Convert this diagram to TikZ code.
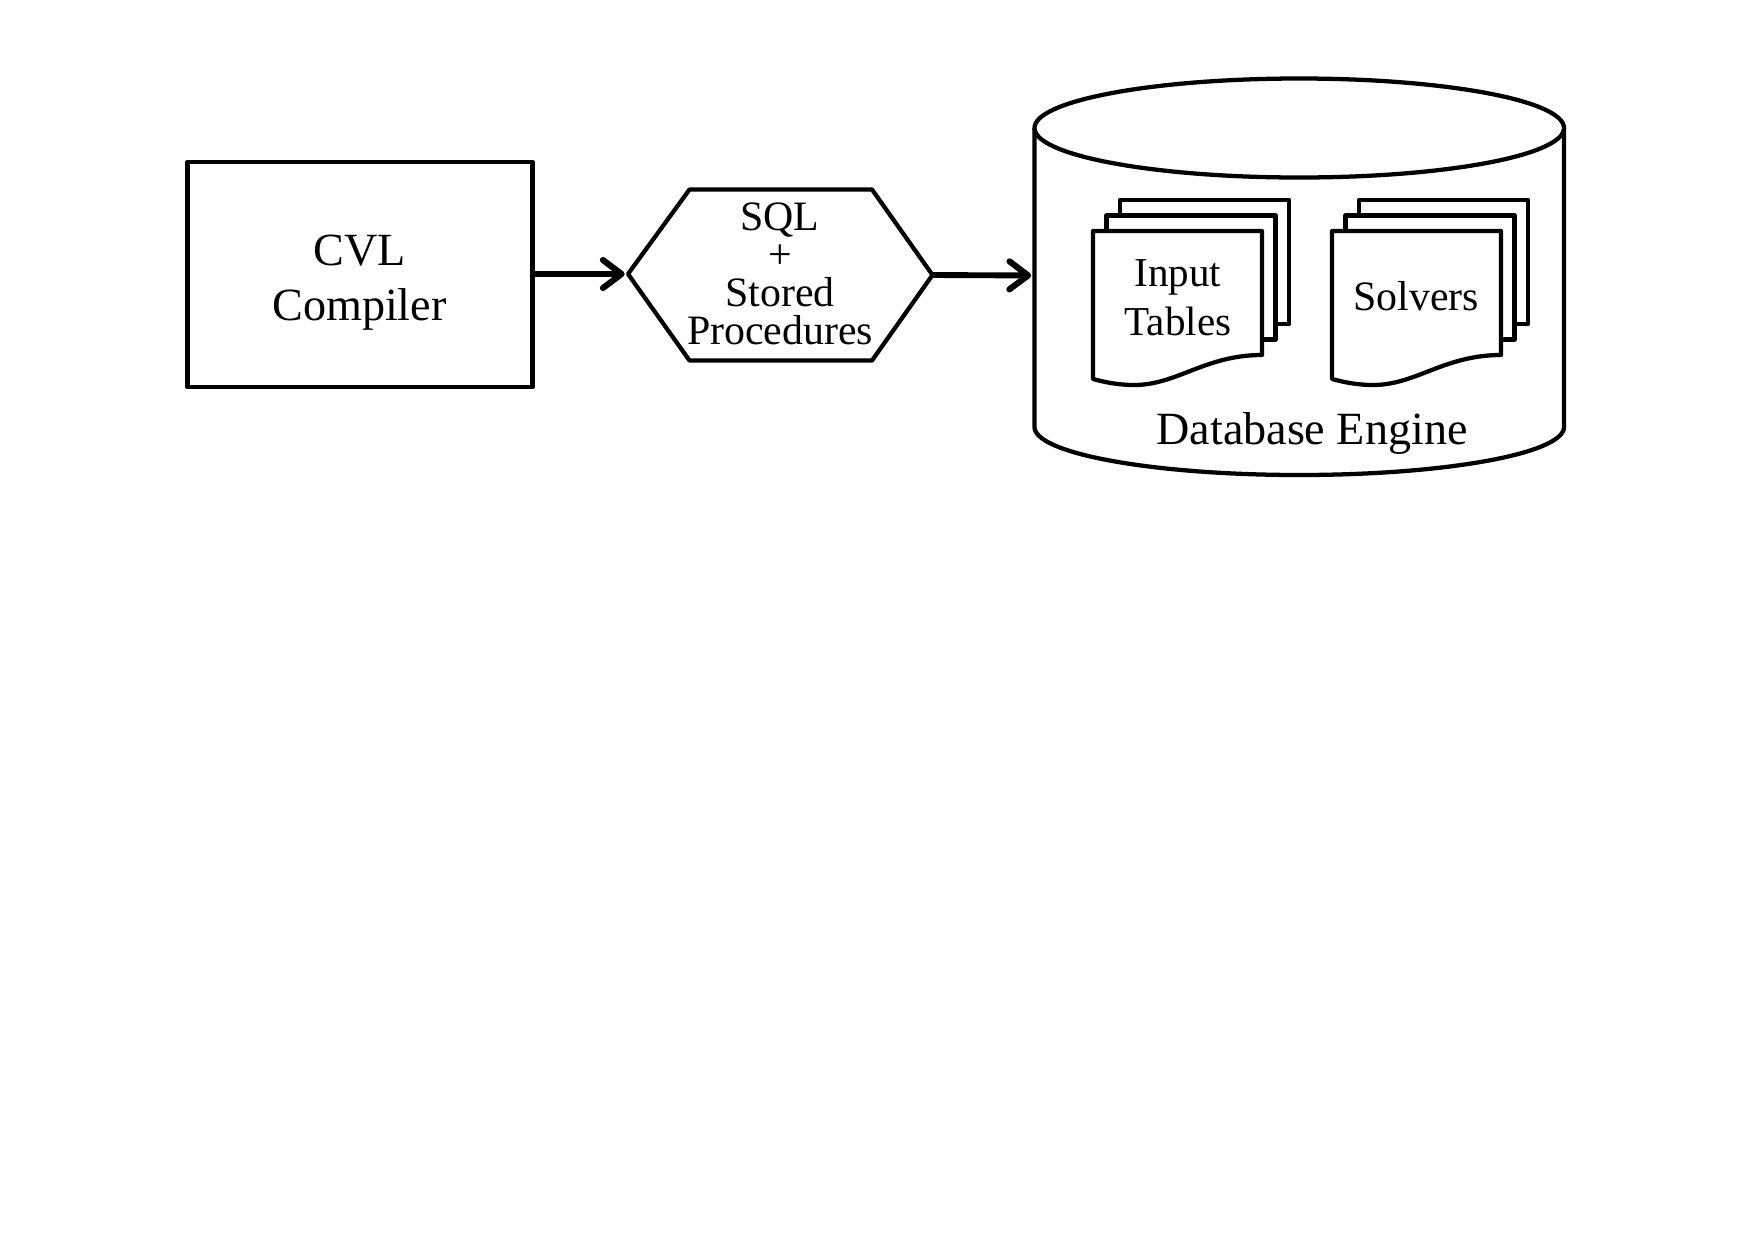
\documentclass[tikz,border=0pt]{standalone}
\usepackage{fontspec}
\setmainfont{Liberation Serif}
\usetikzlibrary{arrows.meta}
\tikzset{
  shapeline/.style={draw=black,line width=3.2pt,line join=round,fill=white},
  flow/.style={draw=black,line width=4.4pt,shorten >=2.5pt,-{Straight Barb[length=14pt,width=21pt,line width=4.6pt,round]}},
  bigtext/.style={font=\fontsize{34.6}{41.25}\selectfont,align=center,anchor=base,inner sep=0pt},
  midtext/.style={font=\fontsize{31.4}{28.3}\selectfont,align=center,anchor=base,inner sep=0pt},
  doctext/.style={font=\fontsize{30.8}{36.75}\selectfont,align=center,anchor=base,inner sep=0pt},
  soltext/.style={font=\fontsize{31.4}{36.75}\selectfont,anchor=base,inner sep=0pt},
  sheet/.style={shapeline,minimum width=126.75pt,minimum height=93pt,inner sep=0pt,outer sep=0pt,anchor=north west}
}
\newcommand{\wavydoc}[1]{%
  \draw[shapeline] (#1,231) -- (#1+169,231) -- (#1+169,355)
    .. controls (#1+112,355) and (#1+84,385) .. (#1+41,385)
    .. controls (#1+25,385) and (#1+11,382) .. (#1,379) -- cycle;
}
\begin{document}
\begin{tikzpicture}[x=0.75pt,y=-0.75pt]
\useasboundingbox (0,0) rectangle (1755,1240);
\fill[white] (0,0) rectangle (1755,1240);
% compiler
\node[shapeline,minimum width=258.75pt,minimum height=168.75pt,inner sep=0pt,outer sep=0pt] (box) at (360,274.5) {};
\node[bigtext] (boxtext) at (359.5,320) {CVL\\Compiler};
% hexagon
\coordinate (hexL) at (628,274);
\coordinate (hexR) at (932.5,275);
\draw[shapeline] (hexL) -- (689.5,189.5) -- (872,189.5) -- (hexR) -- (872,360.5) -- (689.5,360.5) -- cycle;
\node[midtext] (hextext) at (780,344) {SQL\\+\\Stored\\Procedures};
% cylinder
\draw[shapeline] (1034.5,128) -- (1034.5,427) arc[start angle=180,end angle=0,x radius=264.75,y radius=48] -- (1564,128);
\draw[shapeline] (1299.25,128) ellipse [x radius=264.75,y radius=49.5];
\coordinate (cylIn) at (1034.5,275.5);
% stacked documents, left
\node[sheet] (la) at (1120,200) {};
\node[sheet] (lb) at (1106.5,215.5) {};
\wavydoc{1093}
\node[doctext] (ltext) at (1178,335) {Input\\Tables};
% stacked documents, right
\node[sheet] (ra) at (1359,200) {};
\node[sheet] (rb) at (1345.5,215.5) {};
\wavydoc{1332}
\node[soltext] (rtext) at (1416,310) {Solvers};
\node[bigtext] (dbtext) at (1312,444) {Database Engine};
% arrows
\draw[flow] (box.east |- hexL) -- (hexL);
\draw[flow] (hexR) -- (cylIn);
\end{tikzpicture}
\end{document}
